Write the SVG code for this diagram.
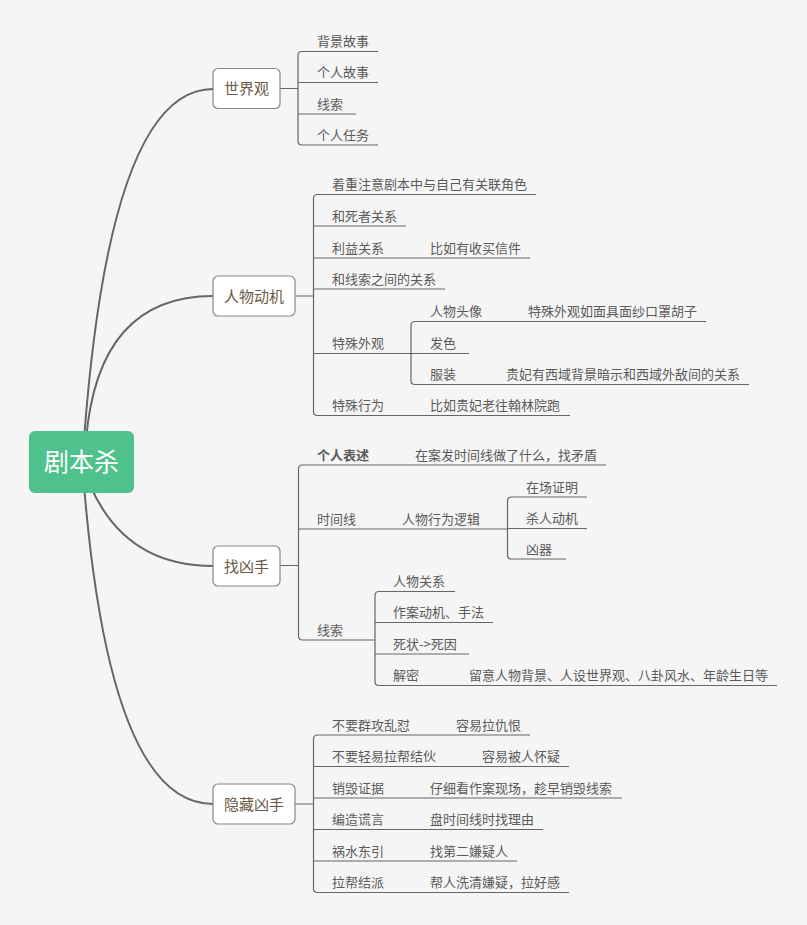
<svg xmlns="http://www.w3.org/2000/svg" width="807" height="925" viewBox="0 0 807 925">
<style>
.bg{fill:#f5f5f5}
.curve{fill:none;stroke:#666;stroke-width:2}
.ln{fill:none;stroke:#666;stroke-width:1.2}
.node rect{fill:#fff;stroke:#888;stroke-width:1.2}
.node text{font-family:"Noto Sans CJK SC","Noto Sans",sans-serif;font-size:15px;fill:#6b5846;text-anchor:middle}
.t{font-family:"Noto Sans CJK SC","Noto Sans",sans-serif;font-size:13px;fill:#5a5a5a}
.b{font-weight:bold}
.root rect{fill:#4fc18c}
.root text{font-family:"Noto Sans CJK SC","Noto Sans",sans-serif;font-size:25px;fill:#fff;text-anchor:middle}
</style>
<rect class="bg" x="0" y="0" width="807" height="925"/>
<g id="connectors">
<path class="curve" d="M84,440 Q110,89 213,89"/>
<path class="curve" d="M86,440 Q98,296 213,296"/>
<path class="curve" d="M90,485 Q125,566 213,566"/>
<path class="curve" d="M84,485 Q110,804 213,804"/>
<!-- 世界观 -->
<path class="ln" d="M280,88.5 H298 M302,51.5 Q298,51.5 298,55.5 V141 Q298,145 302,145 M302,51.5 H378 M298,82.5 H378 M298,114 H356 M302,145 H378"/>
<!-- 人物动机 -->
<path class="ln" d="M295,296 H313.5 M317.5,194.5 Q313.5,194.5 313.5,198.5 V411.5 Q313.5,415.5 317.5,415.5 M317.5,194.5 H536 M313.5,226 H406 M313.5,258 H530 M313.5,289 H445 M313.5,353.5 H411 M317.5,415.5 H570"/>
<path class="ln" d="M415,321.5 Q411,321.5 411,325.5 V380.5 Q411,384.5 415,384.5 M415,321.5 H706 M411,353.5 H469 M415,384.5 H749"/>
<!-- 找凶手 -->
<path class="ln" d="M280,565.5 H298.5 M302.5,465 Q298.5,465 298.5,469 V636 Q298.5,640 302.5,640 M302.5,465 H606 M298.5,529 H507.5 M302.5,640 H375"/>
<path class="ln" d="M511.5,497 Q507.5,497 507.5,501 V555 Q507.5,559 511.5,559 M511.5,497 H587 M507.5,528.5 H587 M511.5,559 H566"/>
<path class="ln" d="M379,591.5 Q375,591.5 375,595.5 V681.5 Q375,685.5 379,685.5 M379,591.5 H455 M375,622.5 H493 M375,654 H469 M379,685.5 H777"/>
<!-- 隐藏凶手 -->
<path class="ln" d="M295,804 H313.5 M317.5,735 Q313.5,735 313.5,739 V888.5 Q313.5,892.5 317.5,892.5 M317.5,735 H530 M313.5,766.5 H569 M313.5,798 H622 M313.5,829.5 H543 M313.5,861 H517 M317.5,892.5 H569"/>
</g>
<g id="root" class="root">
<rect x="29" y="431" width="105" height="62" rx="6"/>
<text x="81.5" y="471">剧本杀</text>
</g>
<g id="n-shijieguan" class="node">
<rect x="213" y="68.5" width="67" height="40" rx="5"/>
<text x="246.5" y="94">世界观</text>
</g>
<g id="n-renwudongji" class="node">
<rect x="213" y="276" width="82" height="40" rx="5"/>
<text x="254" y="301.5">人物动机</text>
</g>
<g id="n-zhaoxiongshou" class="node">
<rect x="213" y="546" width="67" height="40" rx="5"/>
<text x="246.5" y="571.5">找凶手</text>
</g>
<g id="n-yincangxiongshou" class="node">
<rect x="213" y="784" width="82" height="40" rx="5"/>
<text x="254" y="809.5">隐藏凶手</text>
</g>
<g id="labels-shijieguan">
<text class="t" x="317" y="46">背景故事</text>
<text class="t" x="317" y="77">个人故事</text>
<text class="t" x="317" y="108.5">线索</text>
<text class="t" x="317" y="139.5">个人任务</text>
</g>
<g id="labels-renwudongji">
<text class="t" x="332" y="189">着重注意剧本中与自己有关联角色</text>
<text class="t" x="332" y="220.5">和死者关系</text>
<text class="t" x="332" y="252.5">利益关系</text>
<text class="t" x="430" y="252.5">比如有收买信件</text>
<text class="t" x="332" y="283.5">和线索之间的关系</text>
<text class="t" x="332" y="348">特殊外观</text>
<text class="t" x="430" y="316">人物头像</text>
<text class="t" x="528" y="316">特殊外观如面具面纱口罩胡子</text>
<text class="t" x="430" y="348">发色</text>
<text class="t" x="430" y="379">服装</text>
<text class="t" x="506" y="379">贵妃有西域背景暗示和西域外敌间的关系</text>
<text class="t" x="332" y="410">特殊行为</text>
<text class="t" x="430" y="410">比如贵妃老往翰林院跑</text>
</g>
<g id="labels-zhaoxiongshou">
<text class="t b" x="317" y="459.5">个人表述</text>
<text class="t" x="415" y="459.5">在案发时间线做了什么，找矛盾</text>
<text class="t" x="317" y="523.5">时间线</text>
<text class="t" x="402" y="523.5">人物行为逻辑</text>
<text class="t" x="526" y="491.5">在场证明</text>
<text class="t" x="526" y="523">杀人动机</text>
<text class="t" x="526" y="553.5">凶器</text>
<text class="t" x="317" y="634.5">线索</text>
<text class="t" x="393" y="586">人物关系</text>
<text class="t" x="393" y="617">作案动机、手法</text>
<text class="t" x="393" y="648.5">死状-&gt;死因</text>
<text class="t" x="393" y="680">解密</text>
<text class="t" x="469" y="680">留意人物背景、人设世界观、八卦风水、年龄生日等</text>
</g>
<g id="labels-yincangxiongshou">
<text class="t" x="332" y="729.5">不要群攻乱怼</text>
<text class="t" x="456" y="729.5">容易拉仇恨</text>
<text class="t" x="332" y="761">不要轻易拉帮结伙</text>
<text class="t" x="482" y="761">容易被人怀疑</text>
<text class="t" x="332" y="792.5">销毁证据</text>
<text class="t" x="430" y="792.5">仔细看作案现场，趁早销毁线索</text>
<text class="t" x="332" y="824">编造谎言</text>
<text class="t" x="430" y="824">盘时间线时找理由</text>
<text class="t" x="332" y="855.5">祸水东引</text>
<text class="t" x="430" y="855.5">找第二嫌疑人</text>
<text class="t" x="332" y="887">拉帮结派</text>
<text class="t" x="430" y="887">帮人洗清嫌疑，拉好感</text>
</g>
</svg>
